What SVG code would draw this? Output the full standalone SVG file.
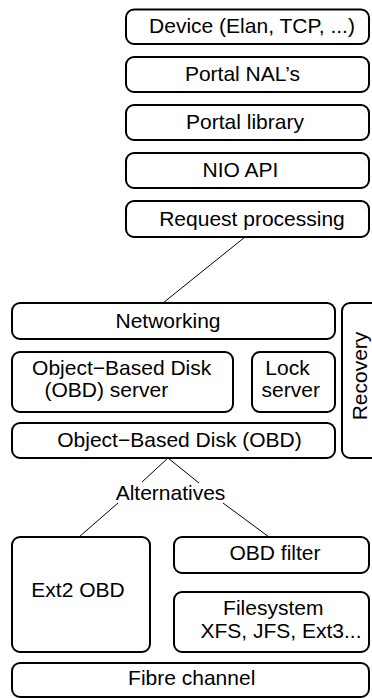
<svg xmlns="http://www.w3.org/2000/svg" width="372" height="698" viewBox="0 0 372 698">
<style>
.b{fill:#fff;stroke:#000;stroke-width:2}
.t{font-family:"Liberation Sans",Arial,sans-serif;font-size:21px;fill:#000;text-anchor:middle}
.c{stroke:#000;stroke-width:1;fill:none}
</style>
<rect width="372" height="698" fill="#fff"/>
<g id="connectors">
<line class="c" x1="245" y1="237" x2="163" y2="303"/>
<line class="c" x1="168" y1="458" x2="142" y2="482"/>
<line class="c" x1="168" y1="458" x2="199" y2="483"/>
<line class="c" x1="118" y1="503" x2="79" y2="537"/>
<line class="c" x1="223" y1="503" x2="269" y2="537"/>
</g>
<g id="device"><rect class="b" x="126" y="9.5" width="243" height="34.5" rx="8"/><text class="t" x="252" y="33">Device (Elan, TCP, ...)</text></g>
<g id="portal-nals"><rect class="b" x="126" y="57" width="243" height="35" rx="8"/><text class="t" x="242.5" y="81">Portal NAL’s</text></g>
<g id="portal-library"><rect class="b" x="126" y="105" width="243" height="35" rx="8"/><text class="t" x="245" y="129">Portal library</text></g>
<g id="nio-api"><rect class="b" x="126" y="153" width="243" height="35" rx="8"/><text class="t" x="240.5" y="177">NIO API</text></g>
<g id="request-processing"><rect class="b" x="126" y="201" width="243" height="36" rx="8"/><text class="t" x="252" y="225.5">Request processing</text></g>
<g id="networking"><rect class="b" x="12" y="303" width="323" height="36" rx="8"/><text class="t" x="168" y="328">Networking</text></g>
<g id="recovery"><rect class="b" x="342" y="303" width="45" height="155" rx="8"/><text class="t" transform="translate(366.5,376) rotate(-90)">Recovery</text></g>
<g id="obd-server"><rect class="b" x="12" y="352" width="221" height="60" rx="8"/><text class="t" x="121.7" y="375">Object−Based Disk</text><text class="t" x="106.3" y="397">(OBD) server</text></g>
<g id="lock-server"><rect class="b" x="252" y="352" width="83" height="60" rx="8"/><text class="t" x="287.5" y="375">Lock</text><text class="t" x="290.8" y="397">server</text></g>
<g id="obd"><rect class="b" x="12" y="423" width="323" height="35" rx="8"/><text class="t" x="179.5" y="446.7">Object−Based Disk (OBD)</text></g>
<g id="alternatives"><text class="t" x="170.5" y="500">Alternatives</text></g>
<g id="ext2-obd"><rect class="b" x="12" y="537" width="138" height="115" rx="8"/><text class="t" x="78" y="597">Ext2 OBD</text></g>
<g id="obd-filter"><rect class="b" x="174" y="537" width="195" height="36" rx="8"/><text class="t" x="275" y="560">OBD filter</text></g>
<g id="filesystem"><rect class="b" x="174" y="592" width="195" height="60" rx="8"/><text class="t" x="273.3" y="615">Filesystem</text><text class="t" x="281" y="638.3">XFS, JFS, Ext3...</text></g>
<g id="fibre-channel"><rect class="b" x="12" y="663" width="357" height="34" rx="8"/><text class="t" x="191.7" y="685">Fibre channel</text></g>
</svg>
